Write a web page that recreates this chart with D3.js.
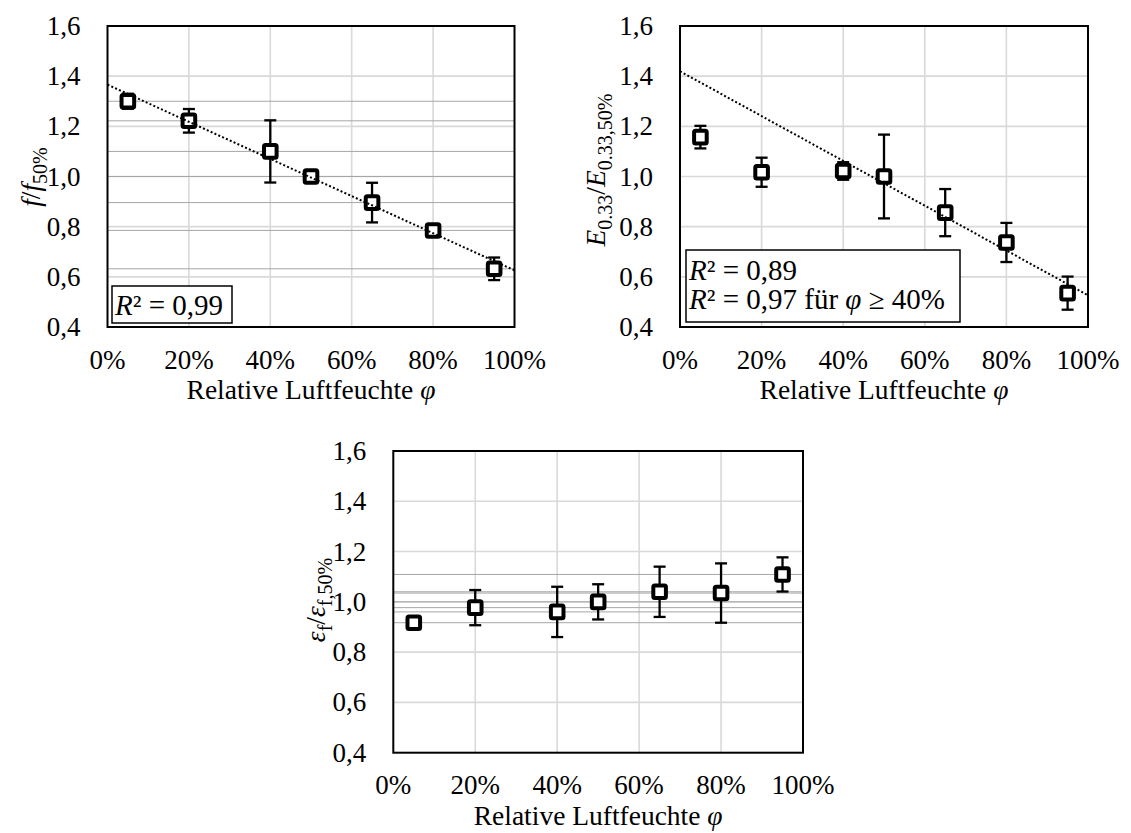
<!DOCTYPE html>
<html>
<head>
<meta charset="utf-8">
<script src="https://cdn.jsdelivr.net/npm/d3@7"></script>
<style>
  html, body { margin: 0; padding: 0; background: #fff; }
  svg { display: block; }
  svg text { font-family: 'Liberation Serif', 'Times New Roman', 'DejaVu Serif', serif; }
</style>
</head>
<body>
<svg id="chart" width="1131" height="833" font-family="Liberation Serif, Times New Roman, DejaVu Serif, serif"></svg>
<script>
// ---------- data ----------
const humidity = [5, 20, 40, 50, 65, 80, 95];           // relative humidity in %

const fRatio   = [1.300, 1.222, 1.100, 1.000, 0.896, 0.785, 0.632];
const fErr     = [0.030, 0.047, 0.124, 0.020, 0.079, 0.025, 0.045];

const eRatio   = [1.157, 1.017, 1.022, 1.000, 0.856, 0.737, 0.535];
const eErr     = [0.045, 0.058, 0.035, 0.167, 0.094, 0.078, 0.066];

const epsRatio = [0.917, 0.977, 0.960, 1.000, 1.040, 1.035, 1.109];
const epsErr   = [0.010, 0.070, 0.100, 0.070, 0.100, 0.118, 0.068];

const xTicks = [0, 20, 40, 60, 80, 100];
const yTicks = [0.4, 0.6, 0.8, 1.0, 1.2, 1.4, 1.6];

const xTitle = "Relative Luftfeuchte ";
const r2A = "0,99";
const r2B = "0,89";
const r2B40 = "0,97";

// ---------- helpers ----------
const FONT = "Liberation Serif, Times New Roman, DejaVu Serif, serif";
const svg = d3.select("#chart");
svg.append("rect").attr("width", 1131).attr("height", 833).attr("fill", "#fff");

const FS = 27;
const FS_TITLE = 27.5;
const FS_BOX = 29;
const fmtY = d => d3.format(".1f")(d).replace(".", ",");
const fmtX = d => d + "%";

function linFit(xs, ys) {
  const n = xs.length;
  const mx = d3.mean(xs), my = d3.mean(ys);
  let sxy = 0, sxx = 0;
  for (let i = 0; i < n; i++) { sxy += (xs[i]-mx)*(ys[i]-my); sxx += (xs[i]-mx)**2; }
  const b = sxy / sxx;
  return { b, a: my - b * mx };
}

function drawChart(cfg) {
  const x = d3.scaleLinear().domain([0, 100]).range([cfg.left, cfg.right]);
  const y = d3.scaleLinear().domain([0.4, 1.6]).range([cfg.bottom, cfg.top]);
  const g = svg.append("g").attr("font-family", FONT);

  // major gridlines
  g.append("g").selectAll("line").data(xTicks.slice(1, -1)).join("line")
    .attr("x1", d => x(d)).attr("x2", d => x(d))
    .attr("y1", cfg.top).attr("y2", cfg.bottom)
    .attr("stroke", "#d9d9d9").attr("stroke-width", 1.6);
  g.append("g").selectAll("line").data(yTicks.slice(1, -1)).join("line")
    .attr("x1", cfg.left).attr("x2", cfg.right)
    .attr("y1", d => y(d)).attr("y2", d => y(d))
    .attr("stroke", "#d9d9d9").attr("stroke-width", 1.6);

  // horizontal reference lines at each measured value
  if (cfg.refLines) {
    g.append("g").selectAll("line").data(cfg.vals).join("line")
      .attr("x1", cfg.left).attr("x2", cfg.right)
      .attr("y1", d => y(d)).attr("y2", d => y(d))
      .attr("stroke", "#a6a6a6").attr("stroke-width", 1);
  }

  // plot border
  g.append("rect")
    .attr("x", cfg.left).attr("y", cfg.top)
    .attr("width", cfg.right - cfg.left).attr("height", cfg.bottom - cfg.top)
    .attr("fill", "none").attr("stroke", "#000").attr("stroke-width", 2);

  // tick labels
  g.append("g").selectAll("text").data(yTicks).join("text")
    .attr("font-family", FONT)
    .attr("x", cfg.left - 27).attr("y", d => y(d) + 9)
    .attr("text-anchor", "end").attr("font-size", FS).attr("fill", "#000")
    .text(fmtY);
  g.append("g").selectAll("text").data(xTicks).join("text")
    .attr("font-family", FONT)
    .attr("x", d => x(d)).attr("y", cfg.bottom + 41.5)
    .attr("text-anchor", "middle").attr("font-size", FS).attr("fill", "#000")
    .text(fmtX);

  // x title
  const xt = g.append("text").attr("font-family", FONT)
    .attr("x", (cfg.left + cfg.right) / 2).attr("y", cfg.bottom + 72)
    .attr("text-anchor", "middle").attr("font-size", FS_TITLE).attr("fill", "#000");
  xt.append("tspan").text(xTitle);
  xt.append("tspan").attr("font-style", "italic").text("φ");

  // y title
  const yt = g.append("text").attr("font-family", FONT)
    .attr("transform", `translate(${cfg.yTitleX},${cfg.yTitleY}) rotate(-90)`)
    .attr("text-anchor", "middle").attr("font-size", FS_TITLE).attr("fill", "#000");
  cfg.yTitle.forEach(p => {
    const t = yt.append("tspan").text(p.t);
    if (p.it) t.attr("font-style", "italic");
    if (p.sub) t.attr("font-size", 20).attr("dy", 7);
    if (p.up) t.attr("dy", -7);
  });

  // error bars
  const eb = g.append("g").attr("stroke", "#000").attr("stroke-width", 2.3);
  humidity.forEach((h, i) => {
    const cx = x(h), v = cfg.vals[i], e = cfg.errs[i];
    eb.append("line").attr("x1", cx).attr("x2", cx).attr("y1", y(v + e)).attr("y2", y(v - e));
    eb.append("line").attr("x1", cx - 6).attr("x2", cx + 6).attr("y1", y(v + e)).attr("y2", y(v + e));
    eb.append("line").attr("x1", cx - 6).attr("x2", cx + 6).attr("y1", y(v - e)).attr("y2", y(v - e));
  });

  // markers
  g.append("g").selectAll("rect").data(humidity).join("rect")
    .attr("x", d => x(d) - 6.3).attr("y", (d, i) => y(cfg.vals[i]) - 6.3)
    .attr("width", 12.6).attr("height", 12.6).attr("rx", 1.5)
    .attr("fill", "#fff").attr("stroke", "#000").attr("stroke-width", 4);

  // linear trendline
  if (cfg.fitMin !== undefined) {
    const xs = [], ys = [];
    humidity.forEach((h, i) => { if (h >= cfg.fitMin) { xs.push(h); ys.push(cfg.vals[i]); } });
    const f = linFit(xs, ys);
    g.append("line")
      .attr("x1", x(0)).attr("x2", x(100))
      .attr("y1", y(f.a)).attr("y2", y(f.a + f.b * 100))
      .attr("stroke", "#000").attr("stroke-width", 2).attr("stroke-dasharray", "2 2.2");
  }

  // R² box
  if (cfg.box) {
    const b = cfg.box;
    g.append("rect").attr("x", b.x).attr("y", b.y).attr("width", b.w).attr("height", b.h)
      .attr("fill", "#fff").attr("stroke", "#000").attr("stroke-width", 1.5);
    b.lines.forEach((ln, k) => {
      const t = g.append("text").attr("font-family", FONT)
        .attr("x", b.x + 3).attr("y", b.base[k])
        .attr("font-size", FS_BOX).attr("fill", "#000");
      ln.forEach(p => {
        const s = t.append("tspan").text(p.t);
        if (p.it) s.attr("font-style", "italic");
      });
    });
  }
}

drawChart({
  left: 107.5, right: 514.5, top: 26, bottom: 327,
  vals: fRatio, errs: fErr, refLines: true, fitMin: 0,
  yTitleX: 40, yTitleY: 177,
  yTitle: [{t: "f", it: true}, {t: "/"}, {t: "f", it: true}, {t: "50%", sub: true}],
  box: { x: 112, y: 286, w: 120, h: 37, base: [315],
         lines: [[{t: "R", it: true}, {t: "² = " + r2A}]] }
});

drawChart({
  left: 680, right: 1088, top: 26, bottom: 327,
  vals: eRatio, errs: eErr, refLines: false, fitMin: 40,
  yTitleX: 605, yTitleY: 170,
  yTitle: [{t: "E", it: true}, {t: "0.33", sub: true}, {t: "/", up: true}, {t: "E", it: true},
           {t: "0.33,50%", sub: true}],
  box: { x: 686, y: 250, w: 274, h: 72, base: [280, 309],
         lines: [[{t: "R", it: true}, {t: "² = " + r2B}],
                 [{t: "R", it: true}, {t: "² = " + r2B40 + " für "}, {t: "φ", it: true}, {t: " ≥ 40%"}]] }
});

drawChart({
  left: 393.3, right: 803, top: 451, bottom: 752.7,
  vals: epsRatio, errs: epsErr, refLines: true,
  yTitleX: 325, yTitleY: 600,
  yTitle: [{t: "ε", it: true}, {t: "f", sub: true}, {t: "/", up: true}, {t: "ε", it: true},
           {t: "f,50%", sub: true}]
});
</script>
</body>
</html>
